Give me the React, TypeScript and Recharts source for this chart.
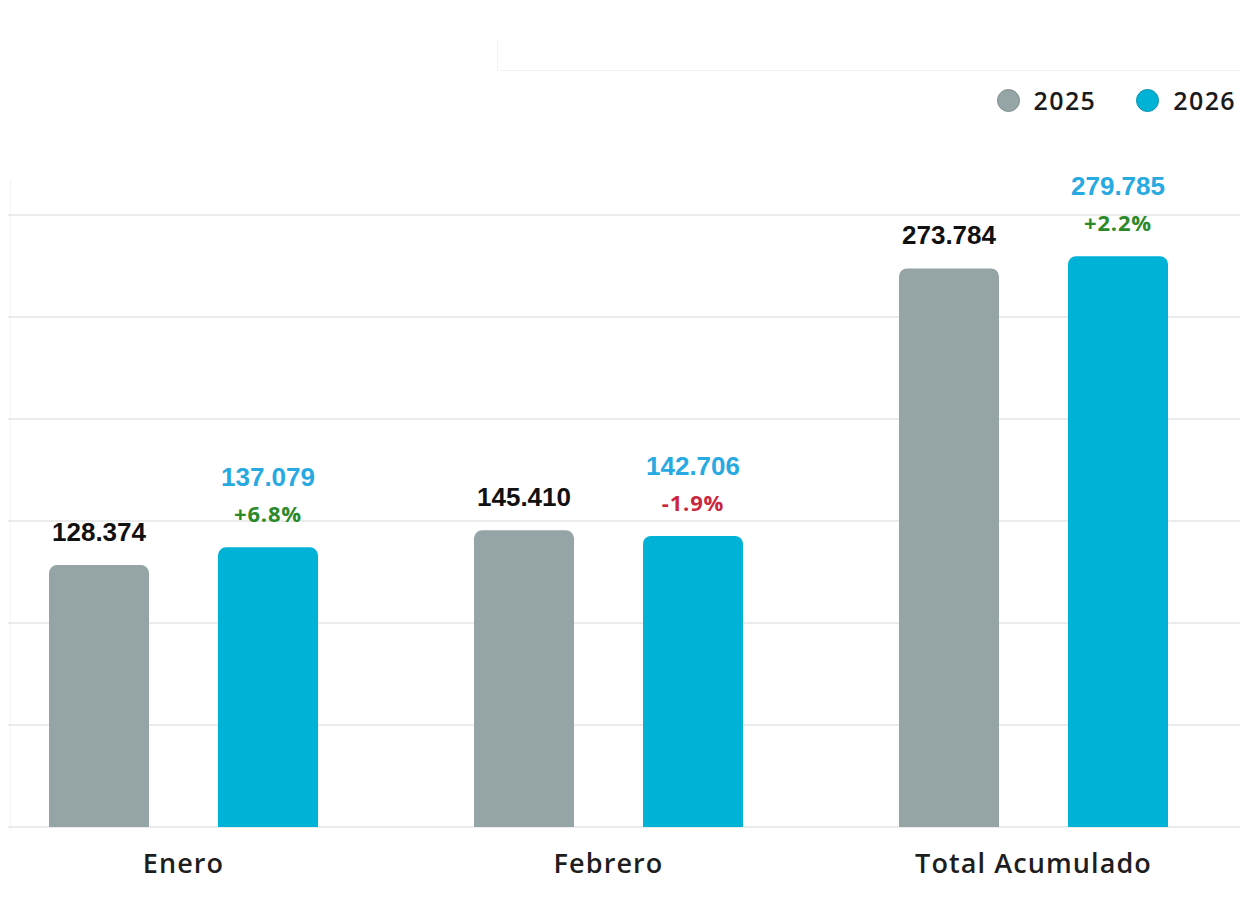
import { BarChart, Bar, XAxis, YAxis, CartesianGrid, Legend, LabelList } from 'recharts';

// data
const categories = ['Enero', 'Febrero', 'Total Acumulado'];
const values2025 = [128374, 145410, 273784];
const values2026 = [137079, 142706, 279785];
const yTicks = [0, 50000, 100000, 150000, 200000, 250000, 300000];

const GRAY = '#95a4a4';
const CYAN = '#00b3d6';
const LABEL_CYAN = '#27a9e1';
const GREEN = '#2a8a2a';
const RED = '#c9283e';

const data = categories.map((name, i) => ({
  name,
  y2025: values2025[i],
  y2026: values2026[i],
}));

const fmt = (v: number) => String(Math.round(v)).replace(/\B(?=(\d{3})+(?!\d))/g, '.');

const pctChange = (i: number) => {
  const p = (values2026[i] / values2025[i] - 1) * 100;
  const s = Math.abs(p).toFixed(1);
  return p >= 0 ? `+${s}%` : `-${s}%`;
};

const Label2025 = (props: any) => {
  const { x, y, width, value } = props;
  return (
    <text
      x={x + width / 2}
      y={y - 24}
      textAnchor="middle"
      fontFamily="'Liberation Sans', Arial, sans-serif"
      fontWeight={700}
      fontSize={26}
      fill="#111"
    >
      {fmt(value)}
    </text>
  );
};

const Label2026 = (props: any) => {
  const { x, y, width, value, index } = props;
  const pct = pctChange(index);
  const cx = x + width / 2;
  return (
    <g>
      <text
        x={cx}
        y={y - 61}
        textAnchor="middle"
        fontFamily="'Liberation Sans', Arial, sans-serif"
        fontWeight={700}
        fontSize={26}
        fill={LABEL_CYAN}
      >
        {fmt(value)}
      </text>
      <text
        x={cx}
        y={y - 25}
        textAnchor="middle"
        fontFamily="'Open Sans', Arial, sans-serif"
        fontWeight={700}
        fontSize={22}
        letterSpacing={0.8}
        fill={pct.startsWith('-') ? RED : GREEN}
      >
        {pct}
      </text>
    </g>
  );
};

const CategoryTick = (props: any) => {
  const { x, y, payload } = props;
  return (
    <text
      x={x}
      y={y + 46}
      textAnchor="middle"
      fontFamily="'Open Sans', sans-serif"
      fontWeight={600}
      fontSize={27}
      letterSpacing={1.1}
      fill="#1e1e1e"
    >
      {payload.value}
    </text>
  );
};

const LegendContent = () => (
  <div style={{ display: 'flex', alignItems: 'center', fontFamily: "'Open Sans', sans-serif", whiteSpace: 'nowrap' }}>
    {[
      { label: '2025', color: GRAY, border: '#7f8f8f' },
      { label: '2026', color: CYAN, border: '#0a8fb0' },
    ].map((item, i) => (
      <div key={item.label} style={{ display: 'flex', alignItems: 'center', marginLeft: i ? 40 : 0 }}>
        <span
          style={{
            display: 'inline-block',
            width: 21,
            height: 21,
            borderRadius: '50%',
            background: item.color,
            border: `1px solid ${item.border}`,
            marginRight: 14,
          }}
        />
        <span style={{ fontSize: 25, fontWeight: 600, letterSpacing: 1.4, color: '#1a1a1a' }}>{item.label}</span>
      </div>
    ))}
  </div>
);

export default function App() {
  return (
    <div style={{ position: 'relative', width: 1240, height: 888, overflow: 'hidden', background: '#fff' }}>
      {/* faint screenshot edges */}
      <div style={{ position: 'absolute', left: 489, top: 32, width: 1, height: 30, background: '#f3f3f3' }} />
      <div style={{ position: 'absolute', left: 489, top: 62, width: 760, height: 1, background: '#f3f3f3' }} />
      <div style={{ position: 'absolute', left: 2, top: 172, width: 1, height: 650, background: '#f4f4f4' }} />
      <div style={{ position: 'absolute', left: -37.5, top: 0 }}>
        <BarChart
          width={1280}
          height={896}
          data={data}
          margin={{ top: 207, right: 5, left: 0, bottom: 17 }}
          barSize={100}
          barGap={69}
        >
          <CartesianGrid vertical={false} stroke="#ebebeb" strokeWidth={2} />
          <XAxis
            dataKey="name"
            height={60}
            axisLine={false}
            tickLine={false}
            tickSize={0}
            tickMargin={0}
            tick={<CategoryTick />}
            interval={0}
          />
          <YAxis hide domain={[0, 300000]} ticks={yTicks} />
          <Legend
            layout="horizontal"
            verticalAlign="middle"
            align="center"
            content={<LegendContent />}
            wrapperStyle={{ top: 75, left: 1026, right: 'auto', width: 'auto' }}
          />
          <Bar dataKey="y2025" name="2025" fill={GRAY} radius={[8, 8, 0, 0]} isAnimationActive={false}>
            <LabelList dataKey="y2025" content={<Label2025 />} />
          </Bar>
          <Bar dataKey="y2026" name="2026" fill={CYAN} radius={[8, 8, 0, 0]} isAnimationActive={false}>
            <LabelList dataKey="y2026" content={<Label2026 />} />
          </Bar>
        </BarChart>
      </div>
    </div>
  );
}
